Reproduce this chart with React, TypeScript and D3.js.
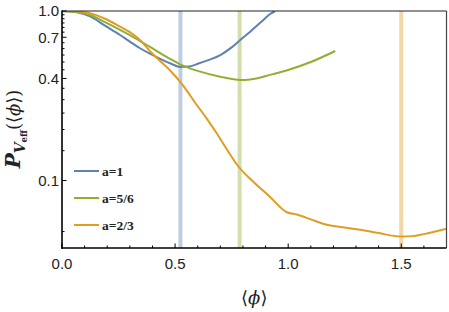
import * as d3 from "d3";

// a = 1
const phiA1 = [0, 0.06, 0.124, 0.19, 0.257, 0.3, 0.345, 0.389, 0.434, 0.48, 0.522, 0.56, 0.6, 0.65, 0.7, 0.75, 0.788, 0.832, 0.88, 0.92, 0.942];
const pA1 = [1.0, 0.985, 0.93, 0.82, 0.722, 0.66, 0.603, 0.56, 0.522, 0.49, 0.468, 0.47, 0.488, 0.515, 0.55, 0.61, 0.675, 0.755, 0.86, 0.96, 1.0];

// a = 5/6
const phiA56 = [0, 0.06, 0.124, 0.19, 0.257, 0.3, 0.345, 0.389, 0.434, 0.48, 0.522, 0.611, 0.699, 0.788, 0.832, 0.92, 1.0, 1.1, 1.208];
const pA56 = [1.0, 0.99, 0.947, 0.86, 0.773, 0.72, 0.665, 0.615, 0.565, 0.52, 0.485, 0.439, 0.41, 0.392, 0.395, 0.42, 0.449, 0.5, 0.581];

// a = 2/3
const phiA23 = [0, 0.06, 0.124, 0.19, 0.257, 0.3, 0.345, 0.389, 0.434, 0.48, 0.527, 0.596, 0.64, 0.684, 0.73, 0.78, 0.84, 0.92, 0.994, 1.038, 1.1, 1.171, 1.25, 1.319, 1.4, 1.496, 1.55, 1.599, 1.7];
const pA23 = [1.0, 0.995, 0.969, 0.9, 0.808, 0.75, 0.675, 0.58, 0.507, 0.443, 0.376, 0.279, 0.232, 0.19, 0.152, 0.121, 0.1, 0.08, 0.065, 0.063, 0.059, 0.0548, 0.0528, 0.0512, 0.049, 0.0468, 0.047, 0.0483, 0.052];

const legendLabels = ["a=1", "a=5/6", "a=2/3"];
const colors = ["#5e81b5", "#8fb032", "#e19c24"];
const bandPositions = [Math.PI / 6, Math.PI / 4, 1.5];

const xMajor = [0, 0.5, 1.0, 1.5];
const yMajor = [0.1, 0.4, 0.7, 1.0];

export default function App() {
  const width = 449;
  const height = 312;
  const left = 62, right = 446.5, top = 11, bottom = 248;

  const x = d3.scaleLinear().domain([0, 1.7]).range([left, right]);
  const y = d3.scaleLog().domain([0.04, 1]).range([bottom, top]);

  const line = d3
    .line<[number, number]>()
    .x((d) => x(d[0]))
    .y((d) => y(d[1]))
    .curve(d3.curveMonotoneX);

  const series = [
    phiA1.map((p, i) => [p, pA1[i]] as [number, number]),
    phiA56.map((p, i) => [p, pA56[i]] as [number, number]),
    phiA23.map((p, i) => [p, pA23[i]] as [number, number]),
  ];

  const xMinor = d3.range(0, 17).map((i) => i / 10).filter((v) => !xMajor.some((m) => Math.abs(m - v) < 1e-6));
  const yMinor = d3.range(1, 20).map((i) => i * 0.05).filter((v) => !yMajor.some((m) => Math.abs(m - v) < 1e-6));

  const tickFont = "Liberation Sans, sans-serif";

  return (
    <svg width={width} height={height} style={{ display: "block", position: "absolute", left: 0, top: 0 }}>
      <rect width={width} height={height} fill="#fff" />
      <defs>
        <clipPath id="plot">
          <rect x={left} y={top} width={right - left} height={bottom - top} />
        </clipPath>
      </defs>

      {/* vertical reference bands */}
      {bandPositions.map((v, i) => (
        <line key={i} x1={x(v)} x2={x(v)} y1={top} y2={bottom} stroke={colors[i]} strokeOpacity={0.4} strokeWidth={4} />
      ))}

      {/* curves */}
      <g clipPath="url(#plot)">
        {series.map((s, i) => (
          <path key={i} d={line(s) || ""} fill="none" stroke={colors[i]} strokeWidth={2} strokeLinejoin="round" />
        ))}
      </g>

      {/* frame */}
      <line x1={left} x2={right} y1={top} y2={top} stroke="#222" strokeWidth={1.2} />
      <line x1={right} x2={right} y1={top} y2={bottom} stroke="#444" strokeWidth={1.2} />
      <line x1={left} x2={left} y1={top - 0.5} y2={bottom + 0.8} stroke="#000" strokeWidth={1.6} />
      <line x1={left - 0.8} x2={right} y1={bottom} y2={bottom} stroke="#000" strokeWidth={1.6} />

      {/* x ticks */}
      {xMinor.map((v) => (
        <line key={"xm" + v} x1={x(v)} x2={x(v)} y1={bottom} y2={bottom - 2.5} stroke="#000" strokeWidth={1} />
      ))}
      {xMajor.map((v) => (
        <g key={"xM" + v}>
          <line x1={x(v)} x2={x(v)} y1={bottom} y2={bottom - 4.5} stroke="#000" strokeWidth={1} />
          <text x={x(v)} y={269} textAnchor="middle" fontFamily={tickFont} fontSize={15} fill="#222">
            {v.toFixed(1)}
          </text>
        </g>
      ))}

      {/* y ticks */}
      {yMinor.map((v) => (
        <line key={"ym" + v} x1={left} x2={left + 2.5} y1={y(v)} y2={y(v)} stroke="#000" strokeWidth={1} />
      ))}
      {yMajor.map((v) => (
        <g key={"yM" + v}>
          <line x1={left} x2={left + 4.5} y1={y(v)} y2={y(v)} stroke="#000" strokeWidth={1} />
          <text x={59} y={y(v) + 5.3} textAnchor="end" fontFamily={tickFont} fontSize={15} fill="#222">
            {v.toFixed(1)}
          </text>
        </g>
      ))}

      {/* legend */}
      {legendLabels.map((lab, i) => {
        const ly = 171 + i * 27;
        return (
          <g key={lab}>
            <line x1={74} x2={99} y1={ly} y2={ly} stroke={colors[i]} strokeWidth={2} />
            <text x={102} y={ly + 4.5} fontFamily="Liberation Serif, serif" fontWeight="bold" fontSize={13.5} fill="#222">
              {lab}
            </text>
          </g>
        );
      })}

      {/* x axis label */}
      <text x={(left + right) / 2} y={304} textAnchor="middle" fontFamily="DejaVu Serif, serif" fontSize={18} fill="#222">
        ⟨<tspan fontStyle="italic">ϕ</tspan>⟩
      </text>

      {/* y axis label */}
      <text transform="translate(20,129) rotate(-90)" textAnchor="middle" fontFamily="DejaVu Serif, serif" fontSize={18} fill="#222">
        <tspan fontWeight="bold" fontStyle="italic" fontSize={20}>P</tspan>
        <tspan fontStyle="italic" fontWeight="bold" fontSize={14} dy={5}>V</tspan>
        <tspan fontWeight="bold" fontSize={8.5} dy={2}>eff</tspan>
        <tspan dy={-7}>(⟨</tspan>
        <tspan fontStyle="italic">ϕ</tspan>
        <tspan>⟩)</tspan>
      </text>
    </svg>
  );
}
